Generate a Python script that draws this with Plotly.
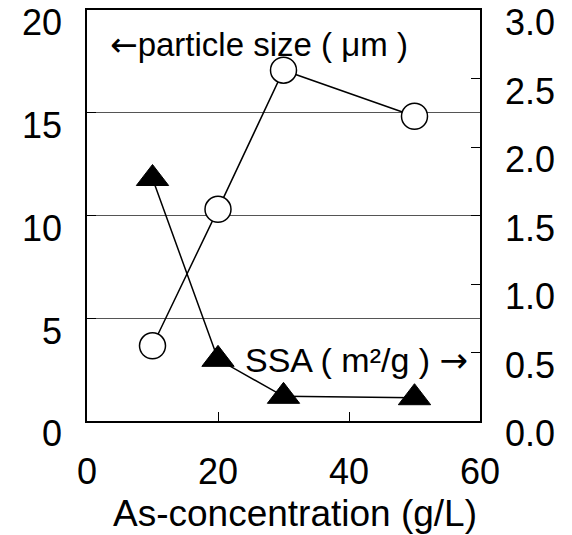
import plotly.graph_objects as go

conc = [10, 20, 30, 50]
particle_size = [3.66, 10.3, 17.07, 14.83]
ssa = [1.77, 0.45, 0.18, 0.17]

x_ticks = [0, 20, 40, 60]
left_ticks = [0, 5, 10, 15, 20]
right_ticks = [0.0, 0.5, 1.0, 1.5, 2.0, 2.5, 3.0]
right_labels = ["0.0", "0.5", "1.0", "1.5", "2.0", "2.5", "3.0"]
x_title = "As-concentration (g/L)"

FONT = "Liberation Sans, Arial, sans-serif"
fs = 36
ARW = '<span style="font-family:DejaVu Sans">{}</span>'

fig = go.Figure()
fig.add_trace(go.Scatter(
    x=conc, y=particle_size, mode="lines+markers",
    line=dict(color="black", width=1.5),
    marker=dict(symbol="circle", size=26, color="white",
                line=dict(color="black", width=1.5)),
    yaxis="y", showlegend=False))
fig.add_trace(go.Scatter(
    x=conc, y=ssa, mode="lines+markers",
    line=dict(color="black", width=1.5),
    marker=dict(symbol="triangle-up", size=28, color="black",
                line=dict(color="black", width=1)),
    yaxis="y2", showlegend=False))

fig.update_layout(
    width=572, height=535,
    margin=dict(l=87, r=92, t=10, b=114, autoexpand=False),
    paper_bgcolor="white", plot_bgcolor="white",
    font=dict(family=FONT, size=fs, color="black"),
    xaxis=dict(range=[0, 60], tickvals=x_ticks, ticks="inside", ticklen=9,
               tickwidth=1, tickcolor="black",
               showline=True, linecolor="black", linewidth=1.5, mirror=True,
               showgrid=False, zeroline=False, automargin=False,
               ticklabelstandoff=18),
    yaxis=dict(range=[0, 20], tickvals=left_ticks, ticks="inside", ticklen=9,
               tickwidth=1, tickcolor="black",
               showline=True, linecolor="black", linewidth=1.5,
               showgrid=True, gridcolor="#555555", gridwidth=1, zeroline=False,
               automargin=False,
               ticklabelposition="outside bottom", ticklabelshift=-13,
               ticklabelstandoff=16),
    yaxis2=dict(range=[0, 3], tickvals=right_ticks, ticktext=right_labels,
                overlaying="y", side="right", ticks="inside", ticklen=9,
                tickwidth=1, tickcolor="black",
                showline=True, linecolor="black", linewidth=1.5,
                showgrid=False, zeroline=False, automargin=False,
                ticklabelposition="outside bottom", ticklabelshift=-13,
                ticklabelstandoff=16),
    annotations=[
        dict(text=ARW.format("←") + "particle size ( μm )", xref="paper", yref="paper",
             x=0.053, y=0.915, xanchor="left", yanchor="middle",
             showarrow=False, font=dict(size=33)),
        dict(text="SSA ( m²/g ) " + ARW.format("→"), xref="paper", yref="paper",
             x=0.975, y=0.148, xanchor="right", yanchor="middle",
             showarrow=False, font=dict(size=34)),
        dict(text=x_title, xref="paper", yref="paper",
             x=0.529, y=-0.224, xanchor="center", yanchor="middle",
             showarrow=False, font=dict(size=37)),
    ],
)

fig.write_html("out.html")
